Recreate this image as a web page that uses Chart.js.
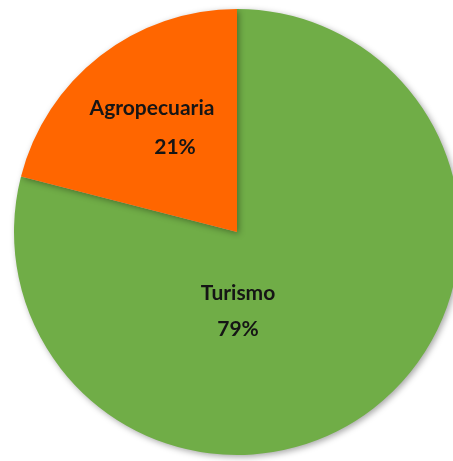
<!DOCTYPE html>
<html>
<head>
<meta charset="utf-8">
<script src="https://cdn.jsdelivr.net/npm/chart.js@4/dist/chart.umd.min.js"></script>
<style>
  html, body { margin: 0; padding: 0; background: #fff; overflow: hidden; }
  #wrap { position: relative; width: 474px; height: 461px; }
</style>
</head>
<body>
<div id="wrap"><canvas id="pie"></canvas></div>
<script>
var SECTORS = ["Turismo", "Agropecuaria"];
var SHARES = [79, 21];
var COLORS = ["#70AD47", "#FF6600"];

// label lines placed relative to the pie centre, in pixels
var LABEL_SPOTS = [
  [{ dx: 1, dy: 61 }, { dx: 1, dy: 97 }],
  [{ dx: -85, dy: -124 }, { dx: -62, dy: -85 }]
];

var sliceLabels = {
  id: "sliceLabels",
  afterDatasetsDraw: function (chart) {
    var ctx = chart.ctx;
    var meta = chart.getDatasetMeta(0);
    var total = SHARES.reduce(function (a, b) { return a + b; }, 0);
    ctx.save();
    ctx.fillStyle = "#151515";
    ctx.font = "bold 21px Lato, 'Open Sans', sans-serif";
    ctx.textAlign = "center";
    ctx.textBaseline = "middle";
    meta.data.forEach(function (arc, i) {
      var pct = Math.round(SHARES[i] / total * 100) + "%";
      var spots = LABEL_SPOTS[i];
      ctx.fillText(SECTORS[i], arc.x + spots[0].dx, arc.y + spots[0].dy);
      ctx.fillText(pct, arc.x + spots[1].dx, arc.y + spots[1].dy);
    });
    ctx.restore();
  }
};

var pieShadow = {
  id: "pieShadow",
  beforeDatasetsDraw: function (chart) {
    var ctx = chart.ctx;
    ctx.save();
    ctx.shadowColor = "rgba(0,0,0,0.35)";
    ctx.shadowBlur = 6;
    ctx.shadowOffsetX = 2;
    ctx.shadowOffsetY = 2;
  },
  afterDatasetsDraw: function (chart) {
    chart.ctx.restore();
  }
};

new Chart(document.getElementById("pie"), {
  type: "pie",
  data: {
    labels: SECTORS,
    datasets: [{
      data: SHARES,
      backgroundColor: COLORS,
      borderWidth: 0
    }]
  },
  options: {
    responsive: true,
    maintainAspectRatio: false,
    animation: false,
    layout: { padding: { top: 9, bottom: 6, left: 0, right: 0 } },
    plugins: {
      legend: { display: false },
      tooltip: { enabled: false }
    }
  },
  plugins: [pieShadow, sliceLabels]
});
</script>
</body>
</html>
